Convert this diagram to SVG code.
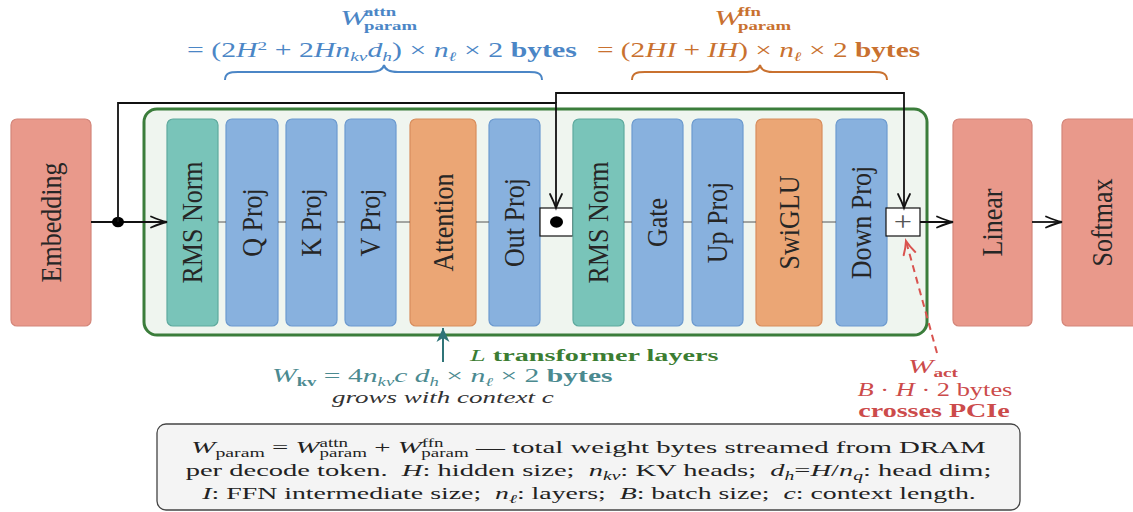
<svg xmlns="http://www.w3.org/2000/svg" width="1133" height="512" viewBox="0 0 1133 512">
  <style>
    .node rect { stroke-width: 1.2; }
    .salmon { fill: #e9998b; stroke: #d4867a; }
    .teal { fill: #79c4b9; stroke: #5eaa9e; }
    .blue { fill: #88b1de; stroke: #6c9acf; }
    .orange { fill: #eba675; stroke: #d88d5c; }
    .lbl { font-family: "Liberation Serif", "DejaVu Serif", serif; font-size: 26px; fill: #262626; text-anchor: middle; }
    .math { font-family: "Liberation Serif", "DejaVu Serif", serif; }
    .it { font-style: italic; }
    .bf { font-weight: bold; }
    .wire { fill: none; stroke: #111; stroke-width: 1.8; }
    .trunk { fill: none; stroke: #555; stroke-width: 1; }
    .brace { fill: none; stroke-width: 2; }
  </style>
  <defs>
    <marker id="toH" markerUnits="userSpaceOnUse" markerWidth="20" markerHeight="14" refX="0" refY="0" orient="auto" overflow="visible">
      <path d="M-16,-5.5 C-9,-2.5 -4,-0.8 0,0 C-4,0.8 -9,2.5 -16,5.5" fill="none" stroke="#111" stroke-width="1.8" stroke-linecap="round"/>
    </marker>
    <marker id="toV" markerUnits="userSpaceOnUse" markerWidth="20" markerHeight="14" refX="0" refY="0" orient="auto" overflow="visible">
      <path d="M-14,-6 C-8,-3 -3,-1 0,0 C-3,1 -8,3 -14,6" fill="none" stroke="#111" stroke-width="1.8" stroke-linecap="round"/>
    </marker>
    <marker id="toRed" markerUnits="userSpaceOnUse" markerWidth="20" markerHeight="14" refX="0" refY="0" orient="auto" overflow="visible">
      <path d="M-13,-6 C-8,-3 -3,-1 0,0 C-3,1 -8,3 -13,6" fill="none" stroke="#d9534f" stroke-width="2" stroke-linecap="round"/>
    </marker>
    <marker id="stealthTeal" markerUnits="userSpaceOnUse" markerWidth="20" markerHeight="14" refX="0" refY="0" orient="auto" overflow="visible">
      <path d="M-14,-6.5 L0,0 L-14,6.5 L-10,0 Z" fill="#2f7478"/>
    </marker>
  </defs>

  <!-- transformer layer container -->
  <g id="layer-block">
    <rect x="144" y="109" width="783" height="226" rx="13" fill="#eff5ef" stroke="#3b7d3b" stroke-width="3"/>
  </g>

  <!-- nodes -->
  <g id="embedding" class="node">
    <rect class="salmon" x="11" y="119" width="80" height="207" rx="6"/>
    <text class="lbl" transform="translate(51,222.5) scale(1.12,1) rotate(-90)" dy="0.33em">Embedding</text>
  </g>
  <g id="rms-norm-1" class="node">
    <rect class="teal" x="167" y="119" width="51" height="207" rx="6"/>
    <text class="lbl" transform="translate(192.5,222.5) scale(1.12,1) rotate(-90)" dy="0.33em">RMS Norm</text>
  </g>
  <g id="q-proj" class="node">
    <rect class="blue" x="226" y="119" width="52" height="207" rx="6"/>
    <text class="lbl" transform="translate(252,222.5) scale(1.12,1) rotate(-90)" dy="0.33em">Q Proj</text>
  </g>
  <g id="k-proj" class="node">
    <rect class="blue" x="286" y="119" width="51" height="207" rx="6"/>
    <text class="lbl" transform="translate(311.5,222.5) scale(1.12,1) rotate(-90)" dy="0.33em">K Proj</text>
  </g>
  <g id="v-proj" class="node">
    <rect class="blue" x="345" y="119" width="51" height="207" rx="6"/>
    <text class="lbl" transform="translate(370.5,222.5) scale(1.12,1) rotate(-90)" dy="0.33em">V Proj</text>
  </g>
  <g id="attention" class="node">
    <rect class="orange" x="410" y="119" width="66" height="207" rx="6"/>
    <text class="lbl" transform="translate(443,222.5) scale(1.12,1) rotate(-90)" dy="0.33em">Attention</text>
  </g>
  <g id="out-proj" class="node">
    <rect class="blue" x="489" y="119" width="51" height="207" rx="6"/>
    <text class="lbl" transform="translate(514.5,222.5) scale(1.12,1) rotate(-90)" dy="0.33em">Out Proj</text>
  </g>
  <g id="residual-1" class="node">
    <rect x="540" y="208" width="33" height="28" fill="#fff" stroke="#111" stroke-width="1.5"/>
    <ellipse cx="556.5" cy="222" rx="6.5" ry="5.8" fill="#000"/>
  </g>
  <g id="rms-norm-2" class="node">
    <rect class="teal" x="573" y="119" width="51" height="207" rx="6"/>
    <text class="lbl" transform="translate(598.5,222.5) scale(1.12,1) rotate(-90)" dy="0.33em">RMS Norm</text>
  </g>
  <g id="gate" class="node">
    <rect class="blue" x="632" y="119" width="51" height="207" rx="6"/>
    <text class="lbl" transform="translate(657.5,222.5) scale(1.12,1) rotate(-90)" dy="0.33em">Gate</text>
  </g>
  <g id="up-proj" class="node">
    <rect class="blue" x="692" y="119" width="51" height="207" rx="6"/>
    <text class="lbl" transform="translate(717.5,222.5) scale(1.12,1) rotate(-90)" dy="0.33em">Up Proj</text>
  </g>
  <g id="swiglu" class="node">
    <rect class="orange" x="756" y="119" width="66" height="207" rx="6"/>
    <text class="lbl" transform="translate(789,222.5) scale(1.12,1) rotate(-90)" dy="0.33em">SwiGLU</text>
  </g>
  <g id="down-proj" class="node">
    <rect class="blue" x="836" y="119" width="51" height="207" rx="6"/>
    <text class="lbl" transform="translate(861.5,222.5) scale(1.12,1) rotate(-90)" dy="0.33em">Down Proj</text>
  </g>
  <g id="residual-2" class="node">
    <rect x="886" y="208" width="34" height="28" fill="#fff" stroke="#111" stroke-width="1.5"/>
    <text class="math" transform="translate(903,231) scale(1.2,1)" font-size="27" fill="#555" text-anchor="middle">+</text>
  </g>
  <g id="linear" class="node">
    <rect class="salmon" x="953" y="119" width="79" height="207" rx="6"/>
    <text class="lbl" transform="translate(992.5,222.5) scale(1.12,1) rotate(-90)" dy="0.33em">Linear</text>
  </g>
  <g id="softmax" class="node">
    <rect class="salmon" x="1062" y="119" width="80" height="207" rx="6"/>
    <text class="lbl" transform="translate(1102,222.5) scale(1.12,1) rotate(-90)" dy="0.33em">Softmax</text>
  </g>

  <!-- connectors -->
  <g id="connectors">
    <path class="trunk" d="M218,222H226 M278,222H286 M337,222H345 M396,222H410 M476,222H489 M624,222H632 M683,222H692 M743,222H756 M822,222H836"/>
    <path class="wire" d="M91,222H167" marker-end="url(#toH)"/>
    <ellipse cx="118" cy="222" rx="6" ry="5.3" fill="#000"/>
    <path class="wire" d="M118,222V103H556V208" marker-end="url(#toV)"/>
    <path class="wire" d="M556,103V93H904V208" marker-end="url(#toV)"/>
    <path class="wire" d="M920,222H953" marker-end="url(#toH)"/>
    <path class="wire" d="M1032,222H1062" marker-end="url(#toH)"/>
    <path d="M937,353L906,241" fill="none" stroke="#d9534f" stroke-width="2" stroke-dasharray="7,5" marker-end="url(#toRed)"/>
    <path d="M443,362V328" fill="none" stroke="#2f7478" stroke-width="2" marker-end="url(#stealthTeal)"/>
  </g>

  <!-- attention weight annotation -->
  <g id="attn-weights" fill="#4b86c6">
    <g transform="translate(340,0) scale(1.5,1)">
      <text class="math it" y="25" font-size="22">W</text>
      <text class="math bf" x="16" y="16" font-size="12.5">attn</text>
      <text class="math bf" x="16" y="30" font-size="12.5">param</text>
    </g>
    <g transform="translate(187,0) scale(1.49,1)">
      <text class="math" y="57" font-size="20">= (2<tspan class="it">H</tspan><tspan font-size="13" baseline-shift="7">2</tspan> + 2<tspan class="it">Hn</tspan><tspan class="it" font-size="13" baseline-shift="-4">kv</tspan><tspan class="it">d</tspan><tspan class="it" font-size="13" baseline-shift="-4">h</tspan>) × <tspan class="it">n</tspan><tspan class="it" font-size="13" baseline-shift="-4">ℓ</tspan> × 2 <tspan class="bf">bytes</tspan></text>
    </g>
    <path class="brace" stroke="#4b86c6" d="M225,80 C225,73 230,72 238,72 L370,72 C378,72 383,70 384,65 C385,70 390,72 398,72 L529,72 C537,72 542,73 542,80"/>
  </g>

  <!-- ffn weight annotation -->
  <g id="ffn-weights" fill="#c9712f">
    <g transform="translate(714,0) scale(1.5,1)">
      <text class="math it" y="25" font-size="22">W</text>
      <text class="math bf" x="16" y="16" font-size="12.5">ffn</text>
      <text class="math bf" x="16" y="30" font-size="12.5">param</text>
    </g>
    <g transform="translate(597,0) scale(1.465,1)">
      <text class="math" y="57" font-size="20">= (2<tspan class="it">HI</tspan> + <tspan class="it">IH</tspan>) × <tspan class="it">n</tspan><tspan class="it" font-size="13" baseline-shift="-4">ℓ</tspan> × 2 <tspan class="bf">bytes</tspan></text>
    </g>
    <path class="brace" stroke="#c9712f" d="M632,80 C632,73 637,72 645,72 L747,72 C755,72 759,70 760,65 C761,70 765,72 773,72 L874,72 C882,72 887,73 887,80"/>
  </g>

  <!-- layer caption -->
  <g id="layer-caption" fill="#3b7d32">
    <g transform="translate(470,0) scale(1.66,1)">
      <text class="math" y="361" font-size="17"><tspan class="it">L</tspan> <tspan class="bf">transformer layers</tspan></text>
    </g>
  </g>

  <!-- KV cache annotation -->
  <g id="kv-weights">
    <g transform="translate(272,0) scale(1.56,1)" fill="#4b8a90">
      <text class="math" y="382" font-size="19"><tspan class="it">W</tspan><tspan class="bf" font-size="12" baseline-shift="-4">kv</tspan> = 4<tspan class="it">n</tspan><tspan class="it" font-size="12" baseline-shift="-4">kv</tspan><tspan class="it">c d</tspan><tspan class="it" font-size="12" baseline-shift="-4">h</tspan> × <tspan class="it">n</tspan><tspan class="it" font-size="12" baseline-shift="-4">ℓ</tspan> × 2 <tspan class="bf">bytes</tspan></text>
    </g>
    <g transform="translate(332,0) scale(1.59,1)" fill="#333">
      <text class="math it" y="403" font-size="17">grows with context c</text>
    </g>
  </g>

  <!-- activation transfer annotation -->
  <g id="act-transfer" fill="#cc4b4b">
    <g transform="translate(933,0) scale(1.6,1)">
      <text class="math" y="373" font-size="19" text-anchor="middle"><tspan class="it">W</tspan><tspan class="bf" font-size="12" baseline-shift="-4">act</tspan></text>
    </g>
    <g transform="translate(935,0) scale(1.39,1)">
      <text class="math" y="396" font-size="19" text-anchor="middle"><tspan class="it">B</tspan> · <tspan class="it">H</tspan> · 2 bytes</text>
    </g>
    <g transform="translate(934,0) scale(1.56,1)">
      <text class="math bf" y="417" font-size="18" text-anchor="middle">crosses PCIe</text>
    </g>
  </g>

  <!-- legend -->
  <g id="legend">
    <rect x="157" y="424" width="863" height="86" rx="9" fill="#f4f4f4" stroke="#444" stroke-width="1.3"/>
    <g fill="#222">
      <g transform="translate(588.5,0) scale(1.65,1)">
        <text class="math" y="453" font-size="17.5" text-anchor="middle"><tspan class="it">W</tspan><tspan font-size="12" baseline-shift="-4">param</tspan> = <tspan class="it">W</tspan><tspan font-size="11.5" baseline-shift="6">attn</tspan><tspan font-size="11.5" baseline-shift="-4" dx="-17.25">param</tspan> + <tspan class="it">W</tspan><tspan font-size="11.5" baseline-shift="6">ffn</tspan><tspan font-size="11.5" baseline-shift="-4" dx="-13.4">param</tspan> — total weight bytes streamed from DRAM</text>
      </g>
      <g transform="translate(588.5,0) scale(1.63,1)">
        <text class="math" y="476" font-size="17.5" text-anchor="middle">per decode token.&#160; <tspan class="it">H</tspan>: hidden size;&#160; <tspan class="it">n</tspan><tspan class="it" font-size="12" baseline-shift="-4">kv</tspan>: KV heads;&#160; <tspan class="it">d</tspan><tspan class="it" font-size="12" baseline-shift="-4">h</tspan>=<tspan class="it">H</tspan>/<tspan class="it">n</tspan><tspan class="it" font-size="12" baseline-shift="-4">q</tspan>: head dim;</text>
      </g>
      <g transform="translate(589,0) scale(1.59,1)">
        <text class="math" y="499" font-size="17.5" text-anchor="middle"><tspan class="it">I</tspan>: FFN intermediate size;&#160; <tspan class="it">n</tspan><tspan class="it" font-size="12" baseline-shift="-4">ℓ</tspan>: layers;&#160; <tspan class="it">B</tspan>: batch size;&#160; <tspan class="it">c</tspan>: context length.</text>
      </g>
    </g>
  </g>
</svg>
